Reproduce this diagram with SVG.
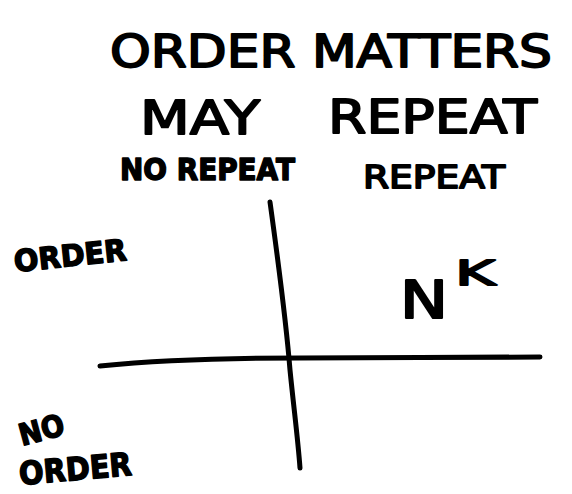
<svg xmlns="http://www.w3.org/2000/svg" width="572" height="494" viewBox="0 0 572 494">
<style>
text{font-family:"DejaVu Sans","Liberation Sans",sans-serif;fill:#000;stroke:#000;stroke-linejoin:round}
.axis{fill:none;stroke:#000;stroke-width:5;stroke-linecap:round;stroke-linejoin:round}
</style>
<rect width="572" height="494" fill="#fff"/>
<g id="title">
<text x="110" y="67" font-size="44" stroke-width="1.8" textLength="442" lengthAdjust="spacingAndGlyphs">ORDER MATTERS</text>
</g>
<g id="header-may">
<text x="140" y="134" font-size="46" stroke-width="1.8" textLength="120" lengthAdjust="spacingAndGlyphs">MAY</text>
</g>
<g id="header-repeat">
<text x="328" y="133" font-size="46" stroke-width="1.8" textLength="209" lengthAdjust="spacingAndGlyphs">REPEAT</text>
</g>
<g id="col-no-repeat">
<text x="120" y="180" font-size="30" font-weight="bold" stroke-width="1.5" textLength="175" lengthAdjust="spacingAndGlyphs">NO REPEAT</text>
</g>
<g id="col-repeat">
<text x="363" y="188" font-size="32" stroke-width="1.8" textLength="142" lengthAdjust="spacingAndGlyphs">REPEAT</text>
</g>
<g id="row-order">
<text x="15" y="272" font-size="30" font-weight="bold" stroke-width="1.5" textLength="113" lengthAdjust="spacingAndGlyphs" transform="rotate(-6 15 272)">ORDER</text>
</g>
<g id="row-no-order">
<text x="22" y="446" font-size="30" font-weight="bold" stroke-width="1.5" textLength="46" lengthAdjust="spacingAndGlyphs" transform="rotate(-15 22 446)">NO</text>
<text x="20" y="485" font-size="32" font-weight="bold" stroke-width="1.5" textLength="113" lengthAdjust="spacingAndGlyphs" transform="rotate(-5 20 485)">ORDER</text>
</g>
<g id="cell-nk">
<text x="400" y="318" font-size="52" stroke-width="2.2" textLength="48" lengthAdjust="spacingAndGlyphs">N</text>
<text x="455" y="285" font-size="34" stroke-width="1.8" textLength="40" lengthAdjust="spacingAndGlyphs">K</text>
</g>
<g id="connectors">
<path class="axis" d="M270 202 C 278 260, 286 320, 290 370 C 294 410, 298 440, 300 468"/>
<path class="axis" d="M100 366 C 160 360, 230 358, 300 358 C 380 358, 460 357, 540 357"/>
</g>
</svg>
